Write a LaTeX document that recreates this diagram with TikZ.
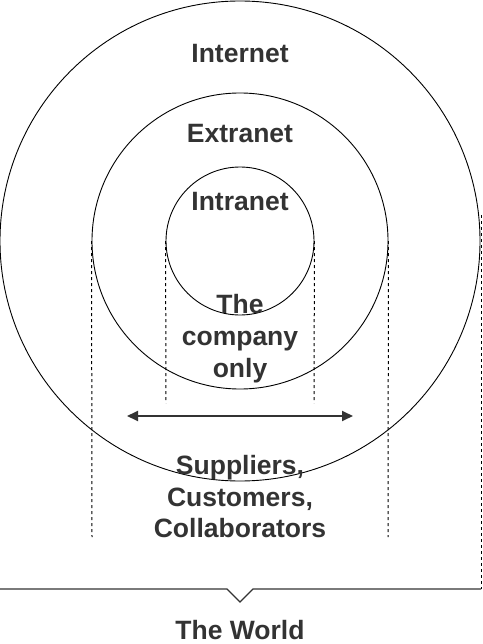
\documentclass[tikz,border=0pt]{standalone}
\usepackage{fontspec}
\setmainfont{Liberation Sans}
\usetikzlibrary{arrows.meta}
\definecolor{txt}{HTML}{333333}
\tikzset{
  ring/.style={circle,draw=black,line width=0.9pt,inner sep=0pt},
  lbl/.style={anchor=base,inner sep=0pt,text=txt,font=\fontsize{26.5}{32}\selectfont\bfseries},
  dashline/.style={draw=black,line width=1pt,dash pattern=on 3pt off 3pt},
  bracket/.style={draw=txt,line width=1.3pt},
  span/.style={draw=txt,line width=1.8pt,{Triangle[length=11pt,width=10pt]}-{Triangle[length=11pt,width=10pt]}}
}
\begin{document}
\begin{tikzpicture}[x=1pt,y=-1pt]
\useasboundingbox (0,0) rectangle (482,644);
% circles
\node[ring,minimum size=480pt] (outer) at (240,241) {};
\node[ring,minimum size=296pt] (middle) at (240,241) {};
\node[ring,minimum size=148pt] (inner) at (240,241) {};
% labels
\node[lbl] (internet) at (240,63) {Internet};
\node[lbl] (extranet) at (240,143) {Extranet};
\node[lbl] (intranet) at (240,211) {Intranet};
\node[lbl] (co1) at (240,313) {The};
\node[lbl] (co2) at (240,345) {company};
\node[lbl] (co3) at (240,377) {only};
\node[lbl] (su1) at (240,474) {Suppliers,};
\node[lbl] (su2) at (240,506) {Customers,};
\node[lbl] (su3) at (240,537) {Collaborators};
\node[lbl] (world) at (240,639) {The World};
% dashed guides
\coordinate (iL) at (166,403);
\coordinate (iR) at (314,403);
\coordinate (mL) at (92,537);
\coordinate (mR) at (388,537);
\coordinate (oTop) at (481,215);
\coordinate (oBot) at (481,589);
\draw[dashline] (inner.west) -- (iL);
\draw[dashline] (inner.east) -- (iR);
\draw[dashline] (middle.west) -- (mL);
\draw[dashline] (middle.east) -- (mR);
\draw[dashline] (oTop) -- (oBot);
% bracket
\coordinate (bL) at (0,589);
\coordinate (n1) at (227,589);
\coordinate (n2) at (240,602);
\coordinate (n3) at (253,589);
\draw[bracket] (bL) -- (n1) -- (n2) -- (n3) -- (oBot);
% arrow
\coordinate (aL) at (127,416);
\coordinate (aR) at (353,416);
\draw[span] (aL) -- (aR);
\end{tikzpicture}
\end{document}
